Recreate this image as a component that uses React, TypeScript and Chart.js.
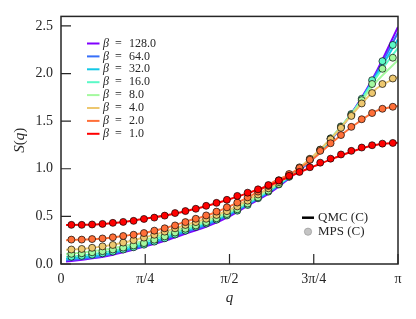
import React, { useEffect, useRef } from 'react';
import { Chart, registerables } from 'chart.js';

Chart.register(...registerables);

// beta values (legend order) and colours (matplotlib "rainbow")
const BETA_LABELS = ['128.0', '64.0', '32.0', '16.0', '8.0', '4.0', '2.0', '1.0'];
const COLORS = ['#8000ff', '#376ff9', '#12c8e6', '#5bf9c7', '#a4f99f', '#edc76f', '#ff6f38', '#ff0000'];

// x axis in units of pi
const X_TICKS = [0, 0.25, 0.5, 0.75, 1];
const X_TICK_LABELS = ['0', 'π/4', 'π/2', '3π/4', 'π'];
const Y_TICKS = [0, 0.5, 1.0, 1.5, 2.0, 2.5];

// QMC lines: q / pi
const Q_QMC = [0.015, 0.0625, 0.125, 0.1875, 0.25, 0.3125, 0.375, 0.4375, 0.5, 0.5625, 0.625, 0.6875, 0.75, 0.8125, 0.875, 0.9375, 1.0];
const S_QMC_128 = [0.025, 0.045, 0.075, 0.125, 0.185, 0.25, 0.325, 0.40, 0.50, 0.63, 0.76, 0.93, 1.11, 1.35, 1.65, 2.03, 2.49];
const S_QMC_64 = [0.038, 0.055, 0.085, 0.135, 0.195, 0.265, 0.34, 0.415, 0.515, 0.64, 0.77, 0.935, 1.115, 1.355, 1.645, 2.01, 2.43];
const S_QMC_32 = [0.055, 0.07, 0.10, 0.15, 0.21, 0.28, 0.355, 0.43, 0.53, 0.65, 0.78, 0.94, 1.12, 1.36, 1.64, 1.99, 2.36];
const S_QMC_16 = [0.075, 0.09, 0.12, 0.165, 0.23, 0.30, 0.37, 0.445, 0.54, 0.66, 0.79, 0.945, 1.125, 1.365, 1.64, 1.97, 2.27];
const S_QMC_8 = [0.105, 0.12, 0.15, 0.19, 0.25, 0.32, 0.39, 0.46, 0.55, 0.67, 0.80, 0.95, 1.13, 1.365, 1.635, 1.92, 2.14];
const S_QMC_4 = [0.15, 0.158, 0.185, 0.225, 0.28, 0.345, 0.415, 0.483, 0.57, 0.69, 0.815, 0.96, 1.14, 1.36, 1.615, 1.845, 1.965];
const S_QMC_2 = [0.25, 0.256, 0.268, 0.296, 0.328, 0.38, 0.45, 0.515, 0.605, 0.715, 0.85, 0.96, 1.11, 1.30, 1.47, 1.61, 1.66];
const S_QMC_1 = [0.41, 0.411, 0.421, 0.442, 0.476, 0.512, 0.56, 0.615, 0.68, 0.755, 0.835, 0.935, 1.025, 1.115, 1.195, 1.252, 1.272];

// MPS markers: q / pi
const Q_MPS = [0.0308, 0.0615, 0.0923, 0.1231, 0.1538, 0.1846, 0.2154, 0.2462, 0.2769, 0.3077, 0.3385, 0.3692, 0.4, 0.4308, 0.4615, 0.4923, 0.5231, 0.5538, 0.5846, 0.6154, 0.6462, 0.6769, 0.7077, 0.7385, 0.7692, 0.8, 0.8308, 0.8615, 0.8923, 0.9231, 0.9538, 0.9846];
const S_MPS_16 = [0.076, 0.085, 0.097, 0.112, 0.13, 0.152, 0.176, 0.203, 0.235, 0.27, 0.31, 0.35, 0.39, 0.425, 0.465, 0.51, 0.56, 0.62, 0.69, 0.76, 0.835, 0.915, 1.0, 1.095, 1.20, 1.32, 1.445, 1.575, 1.735, 1.93, 2.13, 2.30];
const S_MPS_8 = [0.107, 0.113, 0.123, 0.135, 0.152, 0.172, 0.195, 0.22, 0.255, 0.29, 0.33, 0.37, 0.405, 0.44, 0.48, 0.525, 0.575, 0.635, 0.70, 0.77, 0.84, 0.92, 1.005, 1.10, 1.20, 1.315, 1.44, 1.565, 1.72, 1.89, 2.05, 2.166];
const S_MPS_4 = [0.152, 0.158, 0.17, 0.185, 0.20, 0.225, 0.25, 0.277, 0.307, 0.34, 0.375, 0.41, 0.44, 0.475, 0.515, 0.555, 0.605, 0.665, 0.73, 0.795, 0.86, 0.935, 1.015, 1.105, 1.20, 1.31, 1.43, 1.555, 1.686, 1.795, 1.89, 1.948];
const S_MPS_2 = [0.256, 0.256, 0.262, 0.268, 0.28, 0.294, 0.307, 0.325, 0.35, 0.375, 0.405, 0.44, 0.475, 0.51, 0.55, 0.595, 0.645, 0.70, 0.76, 0.82, 0.88, 0.945, 1.008, 1.095, 1.188, 1.268, 1.354, 1.44, 1.52, 1.585, 1.63, 1.651];
const S_MPS_1 = [0.411, 0.411, 0.415, 0.421, 0.432, 0.442, 0.453, 0.473, 0.487, 0.508, 0.535, 0.556, 0.58, 0.611, 0.642, 0.674, 0.715, 0.749, 0.784, 0.829, 0.877, 0.926, 0.967, 1.016, 1.064, 1.106, 1.150, 1.188, 1.223, 1.247, 1.264, 1.271];

const QMC_SERIES = [S_QMC_128, S_QMC_64, S_QMC_32, S_QMC_16, S_QMC_8, S_QMC_4, S_QMC_2, S_QMC_1];
const MPS_SERIES: (number[] | null)[] = [null, null, null, S_MPS_16, S_MPS_8, S_MPS_4, S_MPS_2, S_MPS_1];

const FONT = '"Liberation Serif", "Times New Roman", serif';
const INK = '#262626';

function drawRuns(ctx: CanvasRenderingContext2D, runs: { t: string; it: boolean }[], x: number, y: number, size: number, align: 'left' | 'center') {
  const widths = runs.map((r) => {
    ctx.font = `${r.it ? 'italic ' : ''}${size}px ${FONT}`;
    return ctx.measureText(r.t).width;
  });
  const total = widths.reduce((a, b) => a + b, 0);
  let cx = align === 'center' ? x - total / 2 : x;
  ctx.textAlign = 'left';
  runs.forEach((r, i) => {
    ctx.font = `${r.it ? 'italic ' : ''}${size}px ${FONT}`;
    ctx.fillText(r.t, cx, y);
    cx += widths[i];
  });
}

const decorPlugin = {
  id: 'decor',
  afterDraw(chart: any) {
    const { ctx, chartArea: a, scales } = chart;
    const xs = scales.x;
    const ys = scales.y;
    ctx.save();
    // frame
    ctx.strokeStyle = INK;
    ctx.lineWidth = 1.5;
    ctx.strokeRect(a.left, a.top, a.right - a.left, a.bottom - a.top);
    // inward ticks
    ctx.lineWidth = 1.2;
    ctx.beginPath();
    Y_TICKS.forEach((v) => {
      const py = ys.getPixelForValue(v);
      ctx.moveTo(a.left, py);
      ctx.lineTo(a.left + 10, py);
    });
    X_TICKS.forEach((v) => {
      const px = xs.getPixelForValue(v);
      ctx.moveTo(px, a.bottom);
      ctx.lineTo(px, a.bottom - 10);
    });
    ctx.stroke();

    // axis titles
    ctx.fillStyle = INK;
    ctx.textBaseline = 'alphabetic';
    drawRuns(ctx, [{ t: 'q', it: true }], (a.left + a.right) / 2, 302, 15, 'center');
    ctx.save();
    ctx.translate(24, (a.top + a.bottom) / 2);
    ctx.rotate(-Math.PI / 2);
    drawRuns(ctx, [
      { t: 'S', it: true },
      { t: '(', it: false },
      { t: 'q', it: true },
      { t: ')', it: false },
    ], 0, 0, 15, 'center');
    ctx.restore();

    // beta legend
    ctx.textBaseline = 'middle';
    BETA_LABELS.forEach((lab, i) => {
      const y = 43.5 + i * 12.9;
      ctx.strokeStyle = COLORS[i];
      ctx.lineWidth = 2;
      ctx.beginPath();
      ctx.moveTo(87, y);
      ctx.lineTo(99.5, y);
      ctx.stroke();
      ctx.fillStyle = INK;
      ctx.textAlign = 'left';
      ctx.font = `italic 12px ${FONT}`;
      ctx.fillText('β', 103, y);
      ctx.font = `12px ${FONT}`;
      ctx.fillText('=', 115, y);
      ctx.fillText(lab, 129, y);
    });

    // method legend
    ctx.strokeStyle = '#000000';
    ctx.lineWidth = 2.5;
    ctx.beginPath();
    ctx.moveTo(302, 217.7);
    ctx.lineTo(314, 217.7);
    ctx.stroke();
    ctx.beginPath();
    ctx.arc(308, 231.7, 3.6, 0, Math.PI * 2);
    ctx.fillStyle = '#c4c4c4';
    ctx.fill();
    ctx.strokeStyle = '#a0a0a0';
    ctx.lineWidth = 0.8;
    ctx.stroke();
    ctx.fillStyle = INK;
    ctx.font = `13px ${FONT}`;
    ctx.textAlign = 'left';
    ctx.fillText('QMC (C)', 318, 218);
    ctx.fillText('MPS (C)', 318, 232);
    ctx.restore();
  },
};

export default function App() {
  const ref = useRef<HTMLCanvasElement | null>(null);

  useEffect(() => {
    if (!ref.current) return;
    const datasets: any[] = [];
    // index 0 drawn on top: put beta=1 first
    for (let i = COLORS.length - 1; i >= 0; i--) {
      const mps = MPS_SERIES[i];
      if (mps) {
        datasets.push({
          type: 'scatter',
          data: Q_MPS.map((q, j) => ({ x: q, y: mps[j] })),
          showLine: false,
          pointRadius: 3.5,
          pointBackgroundColor: COLORS[i],
          pointBorderColor: 'rgba(0,0,0,0.85)',
          pointBorderWidth: 0.8,
        });
      }
      const s = QMC_SERIES[i];
      datasets.push({
        type: 'scatter',
        data: Q_QMC.map((q, j) => ({ x: q, y: s[j] })),
        showLine: true,
        borderColor: COLORS[i],
        borderWidth: 2,
        pointRadius: 0,
        cubicInterpolationMode: 'monotone',
        fill: false,
      });
    }

    const chart = new Chart(ref.current, {
      type: 'scatter',
      data: { datasets },
      options: {
        animation: false,
        responsive: false,
        devicePixelRatio: 1,
        layout: { padding: { top: 13, right: 18, left: 0, bottom: 0 } },
        plugins: { legend: { display: false }, tooltip: { enabled: false } },
        scales: {
          x: {
            type: 'linear',
            min: 0,
            max: 1,
            grid: { display: false, drawTicks: false },
            border: { display: false },
            ticks: {
              stepSize: 0.25,
              includeBounds: false,
              padding: 7,
              maxRotation: 0,
              autoSkip: false,
              color: INK,
              font: { family: FONT, size: 14 },
              callback: (v: any) => X_TICK_LABELS[Math.round(Number(v) * 4)] ?? '',
            },
            afterFit: (scale: any) => {
              scale.height = 55;
            },
          },
          y: {
            type: 'linear',
            min: 0,
            max: 2.6,
            grid: { display: false, drawTicks: false },
            border: { display: false },
            ticks: {
              stepSize: 0.5,
              includeBounds: false,
              padding: 8,
              color: INK,
              font: { family: FONT, size: 14 },
              callback: (v: any) => Number(v).toFixed(1),
            },
            afterFit: (scale: any) => {
              scale.width = 61;
            },
          },
        },
      },
      plugins: [decorPlugin],
    });
    return () => chart.destroy();
  }, []);

  return (
    <div style={{ position: 'fixed', left: 0, top: 0, width: 416, height: 319, background: '#ffffff' }}>
      <canvas ref={ref} width={416} height={319} style={{ display: 'block', width: 416, height: 319 }} />
    </div>
  );
}
